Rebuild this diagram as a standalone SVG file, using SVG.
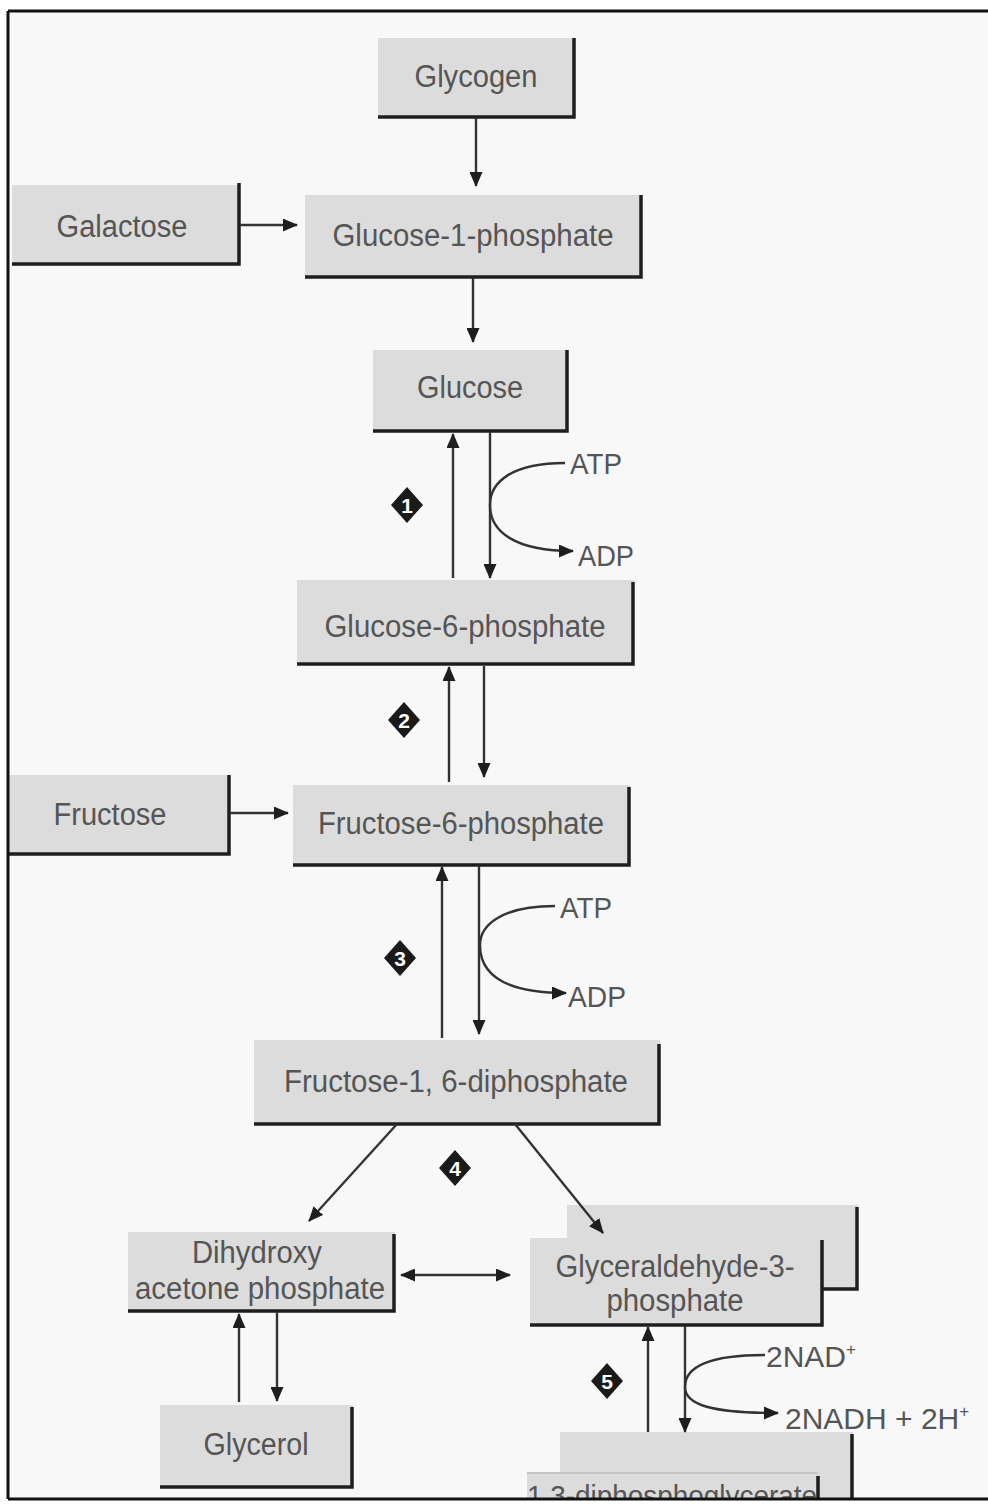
<svg xmlns="http://www.w3.org/2000/svg" width="988" height="1510" viewBox="0 0 988 1510">
<style>
.bx{fill:#dcdcdc;}
.ed{fill:none;stroke:#1e1e1e;stroke-width:3.5;}
.t{font-family:"Liberation Sans",Arial,sans-serif;font-size:31px;fill:#555;text-anchor:middle;}
.s{font-family:"Liberation Sans",Arial,sans-serif;font-size:30px;fill:#555;}
.ln{fill:none;stroke:#333;stroke-width:2.4;}
.dm{fill:#1a1a1a;}
.dn{font-family:"Liberation Sans",Arial,sans-serif;font-size:21px;font-weight:bold;fill:#fff;text-anchor:middle;}
</style>
<defs>
<marker id="ah" viewBox="0 0 15 13" refX="14" refY="6.5" markerWidth="15" markerHeight="13" orient="auto-start-reverse" markerUnits="userSpaceOnUse"><path d="M0,0 L15,6.5 L0,13 z" fill="#1e1e1e"/></marker>
<clipPath id="clipf"><rect x="0" y="0" width="988" height="1498"/></clipPath>
</defs>
<rect x="0" y="0" width="988" height="1510" fill="#ffffff"/>
<rect x="8" y="11" width="990" height="1488" fill="#f8f8f8"/>

<g id="glycogen"><rect class="bx" x="378" y="38" width="197" height="80"/><path class="ed" d="M574,38 V117 H378"/><text class="t" x="476" y="87" textLength="123" lengthAdjust="spacingAndGlyphs">Glycogen</text></g>
<g id="galactose"><rect class="bx" x="12" y="185" width="228" height="81"/><path class="ed" d="M239,183 V264 H12"/><text class="t" x="122" y="237" textLength="131" lengthAdjust="spacingAndGlyphs">Galactose</text></g>
<g id="glucose-1-phosphate"><rect class="bx" x="305" y="195" width="337" height="83"/><path class="ed" d="M641,195 V277 H305"/><text class="t" x="473" y="246" textLength="281" lengthAdjust="spacingAndGlyphs">Glucose-1-phosphate</text></g>
<g id="glucose"><rect class="bx" x="373" y="350" width="195" height="82"/><path class="ed" d="M567,350 V431 H373"/><text class="t" x="470" y="398" textLength="106" lengthAdjust="spacingAndGlyphs">Glucose</text></g>
<g id="glucose-6-phosphate"><rect class="bx" x="297" y="580" width="337" height="85"/><path class="ed" d="M633,582 V664 H297"/><text class="t" x="465" y="637" textLength="281" lengthAdjust="spacingAndGlyphs">Glucose-6-phosphate</text></g>
<g id="fructose"><rect class="bx" x="8" y="775" width="222" height="80"/><path class="ed" d="M229,775 V854 H8"/><text class="t" x="110" y="825" textLength="113" lengthAdjust="spacingAndGlyphs">Fructose</text></g>
<g id="fructose-6-phosphate"><rect class="bx" x="293" y="785" width="337" height="81"/><path class="ed" d="M629,787 V865 H293"/><text class="t" x="461" y="834" textLength="286" lengthAdjust="spacingAndGlyphs">Fructose-6-phosphate</text></g>
<g id="fructose-1-6-diphosphate"><rect class="bx" x="254" y="1040" width="406" height="85"/><path class="ed" d="M659,1044 V1124 H254"/><text class="t" x="456" y="1092" textLength="344" lengthAdjust="spacingAndGlyphs">Fructose-1, 6-diphosphate</text></g>
<g id="dihydroxyacetone-phosphate"><rect class="bx" x="128" y="1232" width="267" height="80"/><path class="ed" d="M394,1234 V1311 H128"/><text class="t" x="257" y="1263" textLength="130" lengthAdjust="spacingAndGlyphs">Dihydroxy</text><text class="t" x="260" y="1299" textLength="250" lengthAdjust="spacingAndGlyphs">acetone phosphate</text></g>
<g id="glyceraldehyde-3-phosphate"><rect class="bx" x="567" y="1205" width="291" height="85"/><path class="ed" d="M857,1207 V1289 H823"/><rect class="bx" x="530" y="1238" width="293" height="88"/><path class="ed" d="M822,1240 V1325 H530"/><text class="t" x="675" y="1277" textLength="239" lengthAdjust="spacingAndGlyphs">Glyceraldehyde-3-</text><text class="t" x="675" y="1311" textLength="137" lengthAdjust="spacingAndGlyphs">phosphate</text></g>
<g id="glycerol"><rect class="bx" x="160" y="1405" width="193" height="83"/><path class="ed" d="M352,1407 V1487 H160"/><text class="t" x="256" y="1455" textLength="105" lengthAdjust="spacingAndGlyphs">Glycerol</text></g>
<g id="diphosphoglycerate" clip-path="url(#clipf)"><rect class="bx" x="560" y="1432" width="293" height="70"/><path class="ed" d="M852,1434 V1502"/><rect class="bx" x="527" y="1472" width="293" height="30"/><path d="M527,1473 H818" stroke="#bbb" stroke-width="1.5"/><path class="ed" d="M818,1476 V1502"/><text class="s" x="527" y="1506" textLength="290" lengthAdjust="spacingAndGlyphs">1,3-diphosphoglycerate</text></g>

<g id="connectors">
<path class="ln" d="M476,118 V186" marker-end="url(#ah)"/>
<path class="ln" d="M240,225 H297" marker-end="url(#ah)"/>
<path class="ln" d="M473,278 V342" marker-end="url(#ah)"/>
<path class="ln" d="M453,578 V434" marker-end="url(#ah)"/>
<path class="ln" d="M490,432 V578" marker-end="url(#ah)"/>
<path class="ln" d="M565,463 C512,463 490,482 490,505 C490,532 515,551 573,551" marker-end="url(#ah)"/>
<path class="ln" d="M449,782 V667" marker-end="url(#ah)"/>
<path class="ln" d="M484,666 V777" marker-end="url(#ah)"/>
<path class="ln" d="M230,813 H288" marker-end="url(#ah)"/>
<path class="ln" d="M442,1038 V867" marker-end="url(#ah)"/>
<path class="ln" d="M479,866 V1034" marker-end="url(#ah)"/>
<path class="ln" d="M555,906 C502,906 480,925 480,945 C480,975 505,993 566,993" marker-end="url(#ah)"/>
<path class="ln" d="M397,1124 L309,1221" marker-end="url(#ah)"/>
<path class="ln" d="M515,1124 L603,1233" marker-end="url(#ah)"/>
<path class="ln" d="M401,1275 H510" marker-start="url(#ah)" marker-end="url(#ah)"/>
<path class="ln" d="M239,1402 V1314" marker-end="url(#ah)"/>
<path class="ln" d="M277,1312 V1401" marker-end="url(#ah)"/>
<path class="ln" d="M648,1432 V1327" marker-end="url(#ah)"/>
<path class="ln" d="M685,1326 V1432" marker-end="url(#ah)"/>
<path class="ln" d="M765,1355 C712,1355 685,1366 685,1387 C685,1405 712,1413 778,1413" marker-end="url(#ah)"/>
</g>

<g id="labels">
<text class="s" x="570" y="474" textLength="52" lengthAdjust="spacingAndGlyphs">ATP</text>
<text class="s" x="578" y="566" textLength="56" lengthAdjust="spacingAndGlyphs">ADP</text>
<text class="s" x="560" y="918" textLength="52" lengthAdjust="spacingAndGlyphs">ATP</text>
<text class="s" x="568" y="1007" textLength="58" lengthAdjust="spacingAndGlyphs">ADP</text>
<text class="s" x="766" y="1367">2NAD<tspan font-size="17" dy="-12">+</tspan></text>
<text class="s" x="785" y="1429">2NADH + 2H<tspan font-size="17" dy="-12">+</tspan></text>
</g>

<g id="step-markers">
<g id="step1"><polygon class="dm" points="407,487 423,505 407,523 391,505"/><text class="dn" x="407" y="513">1</text></g>
<g id="step2"><polygon class="dm" points="404,702 420,720 404,738 388,720"/><text class="dn" x="404" y="728">2</text></g>
<g id="step3"><polygon class="dm" points="400,940 416,958 400,976 384,958"/><text class="dn" x="400" y="966">3</text></g>
<g id="step4"><polygon class="dm" points="455,1150 471,1168 455,1186 439,1168"/><text class="dn" x="455" y="1176">4</text></g>
<g id="step5"><polygon class="dm" points="607,1363 623,1381 607,1399 591,1381"/><text class="dn" x="607" y="1389">5</text></g>
</g>

<path d="M8,11 H988 M8,11 V1499 M8,1499 H988" fill="none" stroke="#111" stroke-width="3"/>
</svg>
